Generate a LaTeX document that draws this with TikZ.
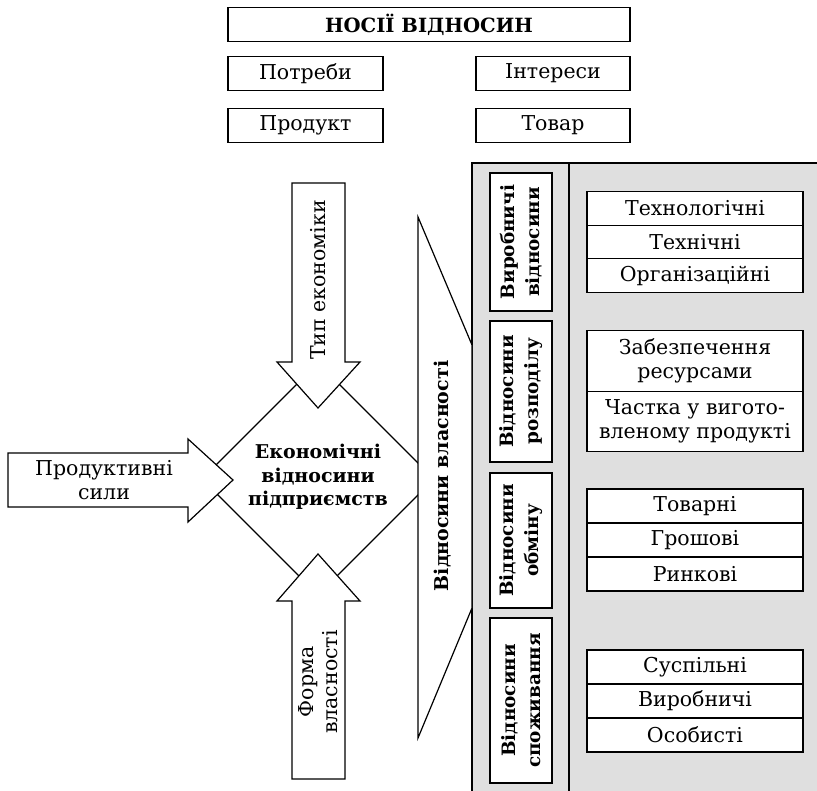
\documentclass[tikz,border=0pt]{standalone}
\usepackage{fontspec}
\setmainfont{DejaVu Serif}
\begin{document}
\begin{tikzpicture}[x=1pt,y=-1pt,
  line join=miter,
  ln/.style={line width=1.2pt},
  txt/.style={font=\fontsize{20.5}{24}\selectfont, align=center, inner sep=0pt},
  btxt/.style={font=\fontsize{19}{23.5}\selectfont\bfseries, align=center, inner sep=0pt},
  topbox/.style={ln, draw, fill=white, minimum height=34pt, inner sep=0pt, font=\fontsize{20.5}{24}\selectfont},
  cell/.style={ln, draw, fill=white, minimum width=216pt, inner sep=0pt, align=center, font=\fontsize{20.5}{24}\selectfont},
  vbox/.style={ln, draw, fill=white, rotate=90, minimum height=62pt, inner sep=0pt, align=center, font=\fontsize{18.4}{24.5}\selectfont\bfseries},
  bigarrow/.style={ln, draw, fill=white}
]
\useasboundingbox (0,0) rectangle (817,791);

% carriers of relations
\node[topbox, minimum width=402pt, font=\fontsize{19.6}{23}\selectfont\bfseries] (title) at (429,24.5) {НОСІЇ ВІДНОСИН};
\node[topbox, minimum width=155pt] (needs) at (305.5,73.5) {Потреби};
\node[topbox, minimum width=154pt] (interests) at (553,73.5) {Інтереси};
\node[topbox, minimum width=155pt] (product) at (305.5,125.5) {Продукт};
\node[topbox, minimum width=154pt] (goods) at (553,125.5) {Товар};

% grey panel with the kinds of relations
\fill[gray!25] (472,163) rectangle (817,791);
\draw[ln] (472,791) -- (472,163) -- (817,163);
\draw[ln] (569,163) -- (569,791);

% central diamond
\draw[ln, fill=white] (318,363) -- (434,479) -- (318,595) -- (202,479) -- cycle;
\node[btxt] (core) at (318,477) {Економічні\\відносини\\підприємств};

% arrows pointing into the diamond
\draw[bigarrow] (292,183) -- (345,183) -- (345,362) -- (360,362) -- (318,408) -- (277,362) -- (292,362) -- cycle;
\node[txt, rotate=90] (econtype) at (318,280) {Тип економіки};

\draw[bigarrow] (292,779) -- (345,779) -- (345,601) -- (360,601) -- (318,554) -- (277,601) -- (292,601) -- cycle;
\node[txt, rotate=90] (ownform) at (318,682) {Форма\\власності};

\draw[bigarrow] (8,453) -- (188,453) -- (188,439) -- (233,480) -- (188,522) -- (188,507) -- (8,507) -- cycle;
\node[txt] (forces) at (104,480) {Продуктивні\\сили};

% wedge of property relations
\draw[ln, fill=white] (418,217) -- (472,345) -- (472,608) -- (418,738) -- cycle;
\node[btxt, rotate=90] (property) at (443,476) {Відносини власності};

% vertical labels of relation groups
\node[vbox, minimum width=138pt] (prod) at (521,242) {Виробничі\\відносини};
\node[vbox, minimum width=141pt] (distr) at (521,391.5) {Відносини\\розподілу};
\node[vbox, minimum width=135pt] (exch) at (521,540.5) {Відносини\\обміну};
\node[vbox, minimum width=165pt] (cons) at (521,700.5) {Відносини\\споживання};

% production relations
\node[cell, minimum height=33.5pt] (p1) at (695,208.5) {Технологічні};
\node[cell, minimum height=33.5pt] (p2) at (695,242) {Технічні};
\node[cell, minimum height=33.5pt] (p3) at (695,275.5) {Організаційні};

% distribution relations
\node[cell, minimum height=60.5pt] (d1) at (695,361) {Забезпечення\\ресурсами};
\node[cell, minimum height=60.5pt] (d2) at (695,421.5) {Частка у вигото-\\вленому продукті};

% exchange relations
\node[cell, minimum height=34pt] (e1) at (695,506) {Товарні};
\node[cell, minimum height=34pt] (e2) at (695,540) {Грошові};
\node[cell, minimum height=34pt] (e3) at (695,574) {Ринкові};

% consumption relations
\node[cell, minimum height=34pt] (c1) at (695,667) {Суспільні};
\node[cell, minimum height=34pt] (c2) at (695,701) {Виробничі};
\node[cell, minimum height=34pt] (c3) at (695,735) {Особисті};
\end{tikzpicture}
\end{document}
